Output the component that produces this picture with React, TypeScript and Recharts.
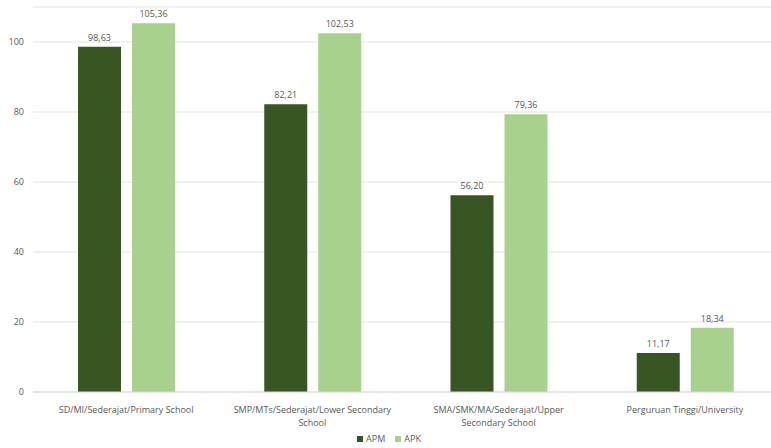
import React from "react";
import { BarChart, Bar, XAxis, YAxis, CartesianGrid, Legend, LabelList } from "recharts";

const categories = [
  "SD/MI/Sederajat/Primary School",
  "SMP/MTs/Sederajat/Lower Secondary School",
  "SMA/SMK/MA/Sederajat/Upper Secondary School",
  "Perguruan Tinggi/University",
];
const apm = [98.63, 82.21, 56.2, 11.17];
const apk = [105.36, 102.53, 79.36, 18.34];
const yTicks = [0, 20, 40, 60, 80, 100];
const seriesNames = ["APM", "APK"];
const seriesColors = ["#375623", "#a9d18e"];

const data = categories.map((c, i) => ({ name: c, APM: apm[i], APK: apk[i] }));

const FONT = "'Open Sans', 'Noto Sans', sans-serif";
const fmt = (v: number) => v.toFixed(2).replace(".", ",");

let ctx: CanvasRenderingContext2D | null = null;
const measure = (s: string) => {
  if (!ctx) {
    ctx = document.createElement("canvas").getContext("2d");
  }
  if (!ctx) return s.length * 4.8;
  ctx.font = `9px ${FONT}`;
  return ctx.measureText(s).width;
};

const wrap = (text: string, maxW: number) => {
  const words = text.split(" ");
  const lines: string[] = [];
  let cur = "";
  for (const w of words) {
    const cand = cur ? cur + " " + w : w;
    if (cur && measure(cand) > maxW) {
      lines.push(cur);
      cur = w;
    } else cur = cand;
  }
  if (cur) lines.push(cur);
  return lines;
};

const XTick = (props: any) => {
  const { x, y, payload } = props;
  const lines = wrap(String(payload.value), 172);
  return (
    <text x={x} y={y + 7} textAnchor="middle" fontSize={9} fontFamily={FONT} fill="#595959">
      {lines.map((l, i) => (
        <tspan key={i} x={x} dy={i === 0 ? "0.71em" : 13}>
          {l}
        </tspan>
      ))}
    </text>
  );
};

const LegendContent = () => (
  <div style={{ display: "flex", justifyContent: "center", gap: 10, fontSize: 9, fontFamily: FONT, color: "#595959" }}>
    {seriesNames.map((n, i) => (
      <span key={n} style={{ display: "inline-flex", alignItems: "center", gap: 3 }}>
        <span style={{ width: 6, height: 6, background: seriesColors[i], display: "inline-block" }} />
        {n}
      </span>
    ))}
  </div>
);

export default function App() {
  return (
    <div style={{ position: "absolute", left: 0, top: 0 }}>
      <BarChart
        width={778}
        height={448}
        data={data}
        margin={{ top: 7, right: 0, bottom: 0, left: 0 }}
        barGap={11}
        barCategoryGap={45}
      >
        <CartesianGrid vertical={false} stroke="#e3e3e3" />
        <XAxis
          dataKey="name"
          height={40}
          interval={0}
          tick={<XTick />}
          tickLine={false}
          axisLine={{ stroke: "#d9d9d9" }}
        />
        <YAxis
          width={33}
          domain={[0, 110]}
          ticks={yTicks}
          tickSize={0}
          tickMargin={9}
          axisLine={false}
          tick={{ fontSize: 9, fill: "#595959", fontFamily: FONT }}
        />
        <Legend verticalAlign="bottom" height={16} content={<LegendContent />} />
        <Bar dataKey="APM" fill={seriesColors[0]} isAnimationActive={false}>
          <LabelList dataKey="APM" position="top" offset={6} formatter={fmt} style={{ fontSize: 9, fill: "#595959", fontFamily: FONT }} />
        </Bar>
        <Bar dataKey="APK" fill={seriesColors[1]} isAnimationActive={false}>
          <LabelList dataKey="APK" position="top" offset={6} formatter={fmt} style={{ fontSize: 9, fill: "#595959", fontFamily: FONT }} />
        </Bar>
      </BarChart>
    </div>
  );
}
